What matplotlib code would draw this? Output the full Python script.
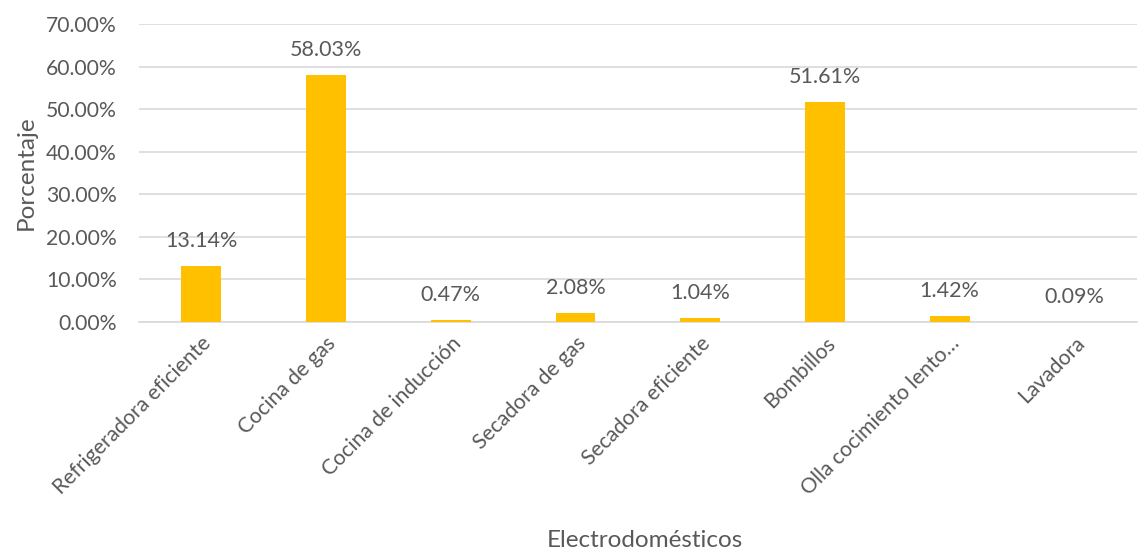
import matplotlib
matplotlib.use("Agg")
import matplotlib.pyplot as plt
import numpy as np

categorias = ["Refrigeradora eficiente", "Cocina de gas", "Cocina de inducción",
              "Secadora de gas", "Secadora eficiente", "Bombillos",
              "Olla cocimiento lento…", "Lavadora"]
porcentajes = [13.14, 58.03, 0.47, 2.08, 1.04, 51.61, 1.42, 0.09]

plt.rcParams['font.family'] = ['Lato', 'DejaVu Sans']
gris = "#595959"

fig = plt.figure(figsize=(11.39, 5.53), dpi=100)
ax = fig.add_axes([0.122, 0.4177, 0.876, 0.539])

x = np.arange(len(categorias))
bars = ax.bar(x, porcentajes, width=0.32, color="#FFC000", zorder=3)

for xi, v in zip(x, porcentajes):
    ax.annotate(f"{v:.2f}%", (xi, v), xytext=(0, 18), textcoords="offset points",
                ha="center", va="center", fontsize=15.5, color=gris)

ax.set_xlim(-0.5, len(categorias) - 0.5)
ax.set_ylim(0, 70)
ax.set_yticks(np.arange(0, 71, 10))
ax.set_yticklabels([f"{t:.2f}%" for t in np.arange(0, 71, 10)])
ax.set_xticks(x)
ax.set_xticklabels(categorias, rotation=45, ha="right", rotation_mode="anchor")
ax.tick_params(axis="both", length=0, labelsize=15.2, labelcolor=gris)
ax.tick_params(axis="x", pad=8)
ax.tick_params(axis="y", pad=16)

ax.grid(axis="y", color="#D9D9D9", linewidth=1.2, zorder=0)
for s in ["top", "right", "left"]:
    ax.spines[s].set_visible(False)
ax.spines["bottom"].set_color("#D9D9D9")
ax.spines["bottom"].set_linewidth(1.2)

ax.set_ylabel("Porcentaje", fontsize=17.5, color=gris)
fig.text(0.566, 0.022, "Electrodomésticos", fontsize=17.5, color=gris, ha="center", va="center")
ax.yaxis.set_label_coords(-0.102, 0.5)

fig.savefig("out.png", dpi=100)
